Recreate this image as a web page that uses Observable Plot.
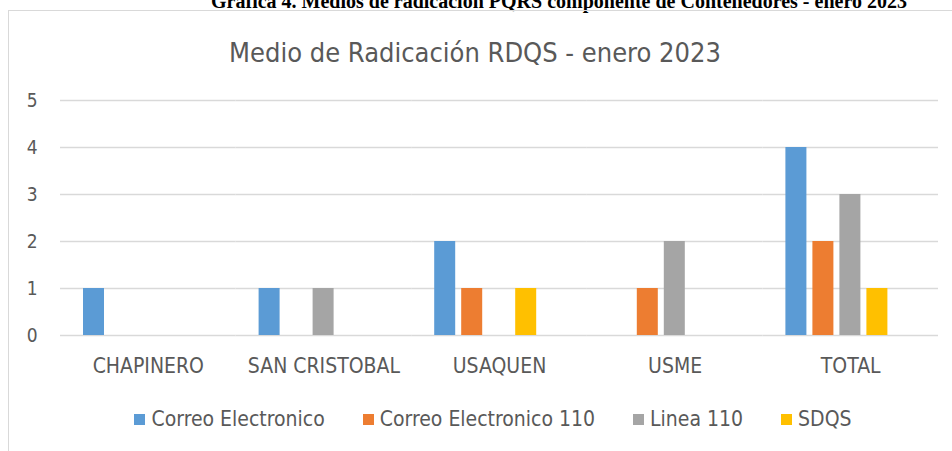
<!DOCTYPE html>
<html>
<head>
<meta charset="utf-8">
<script src="https://cdn.jsdelivr.net/npm/d3@7"></script>
<script src="https://cdn.jsdelivr.net/npm/@observablehq/plot@0.6"></script>
<style>
  html, body { margin: 0; padding: 0; background: #fff; overflow: hidden; }
  body { width: 952px; height: 451px; position: relative; }
  .narrow { font-family: "Liberation Sans Narrow", "Arial Narrow", "DejaVu Sans Condensed", sans-serif; }
  #caption { position: absolute; left: 0; width: 1118px; top: -9px; text-align: center;
    font-family: "Liberation Serif", "Times New Roman", serif; font-weight: bold; font-size: 20px; line-height: 20px; color: #000; white-space: nowrap; }
  #frame { position: absolute; left: 8px; top: 10px; width: 1100px; height: 600px; border: 1px solid #d9d9d9; box-sizing: border-box; }
  #chart { position: absolute; left: 0; top: 0; }
  #title { position: absolute; left: 0; width: 950px; top: 37px; text-align: center; font-size: 27px; line-height: 32px; color: #595959; white-space: nowrap; }
  #legend { position: absolute; left: 0; width: 986px; top: 408px; display: flex; justify-content: center; gap: 38px; font-size: 21px; line-height: 22px; color: #595959; }
  #legend .item { display: flex; align-items: center; gap: 6px; white-space: nowrap; }
  #legend .sw { width: 11px; height: 11px; display: inline-block; }
  svg g[aria-label^="y-axis"] text { font-size: 19px; }
  svg g[aria-label^="fx-axis"] text { font-size: 21px; }
</style>
</head>
<body>
<div id="caption">Gráfica 4. Medios de radicación PQRS componente de Contenedores - enero 2023</div>
<div id="frame"></div>
<div id="chart"></div>
<div id="title" class="narrow">Medio de Radicación RDQS - enero 2023</div>
<div id="legend" class="narrow"></div>
<script>
const categories = ["CHAPINERO", "SAN CRISTOBAL", "USAQUEN", "USME", "TOTAL"];
const seriesNames = ["Correo Electronico", "Correo Electronico 110", "Linea 110", "SDQS"];
const correoElectronico = [1, 1, 2, 0, 4];
const correoElectronico110 = [0, 0, 1, 1, 2];
const linea110 = [0, 1, 0, 2, 3];
const sdqs = [0, 0, 1, 0, 1];
const seriesColors = ["#5B9BD5", "#ED7D31", "#A5A5A5", "#FFC000"];
const yTicks = [0, 1, 2, 3, 4, 5];

const seriesValues = [correoElectronico, correoElectronico110, linea110, sdqs];
const rows = [];
categories.forEach((c, i) => {
  seriesNames.forEach((s, j) => {
    rows.push({category: c, series: s, value: seriesValues[j][i]});
  });
});

const chart = Plot.plot({
  width: 952,
  height: 451,
  marginTop: 100,
  marginBottom: 116,
  marginLeft: 60,
  marginRight: 14,
  style: {fontFamily: '"Liberation Sans Narrow", "Arial Narrow", "DejaVu Sans Condensed", sans-serif', color: "#595959", background: "transparent"},
  fx: {domain: categories, paddingInner: 0, paddingOuter: 0, round: false, label: null, tickSize: 0, tickPadding: 23},
  x: {domain: seriesNames, axis: null, paddingInner: 0.2222, paddingOuter: 1.363, align: 0.3125, round: false},
  y: {domain: [0, 5], ticks: yTicks, tickSize: 0, tickPadding: 23, label: null, tickFormat: d => String(d)},
  color: {domain: seriesNames, range: seriesColors},
  marks: [
    Plot.ruleY(yTicks, {stroke: "#d9d9d9", strokeWidth: 1.5}),
    Plot.barY(rows.filter(d => d.value > 0), {fx: "category", x: "series", y: "value", fill: "series"})
  ]
});
document.getElementById("chart").appendChild(chart);

const legend = document.getElementById("legend");
seriesNames.forEach((s, j) => {
  const item = document.createElement("div");
  item.className = "item";
  const sw = document.createElement("span");
  sw.className = "sw";
  sw.style.background = seriesColors[j];
  const t = document.createElement("span");
  t.textContent = s;
  item.appendChild(sw);
  item.appendChild(t);
  legend.appendChild(item);
});
</script>
</body>
</html>
